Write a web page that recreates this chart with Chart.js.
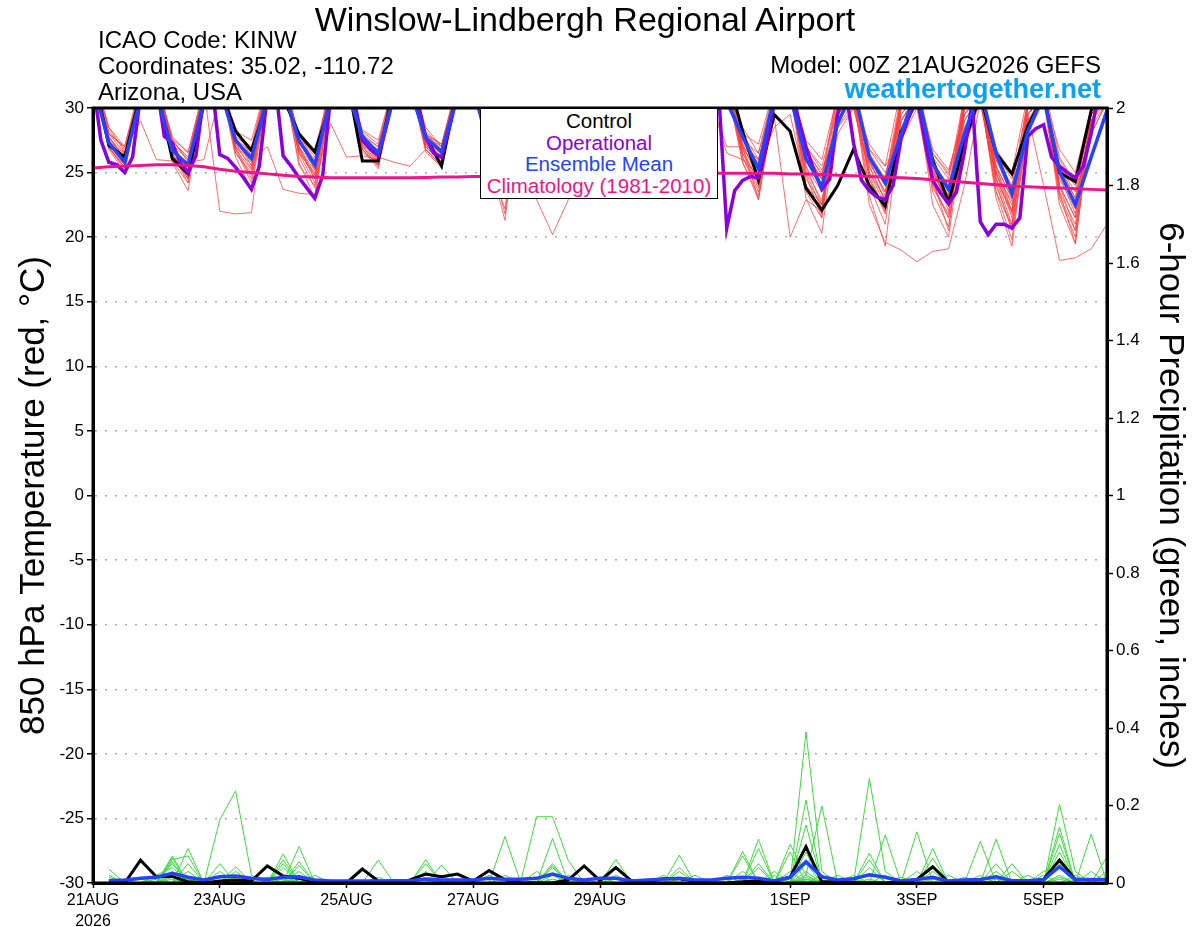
<!DOCTYPE html>
<html>
<head>
<meta charset="utf-8">
<title>Winslow-Lindbergh Regional Airport - GEFS</title>
<script src="https://cdn.jsdelivr.net/npm/chart.js@4.4.1/dist/chart.umd.min.js"></script>
<style>
  html, body { margin: 0; padding: 0; background: #fff; }
  #wrap { position: relative; width: 1200px; height: 927px; overflow: hidden;
          font-family: "Liberation Sans", Arial, Helvetica, sans-serif; }
  #chart { position: absolute; left: 0; top: 0; width: 1200px; height: 927px; }
  .txt { position: absolute; line-height: 1; white-space: nowrap; color: #000; }
  #legendBox { position: absolute; left: 480px; top: 108px; width: 238px; height: 91px;
               box-sizing: border-box; border: 1.5px solid #000; background: #fff;
               text-align: center; font-size: 20.5px; line-height: 21.7px; padding-top: 1px; }
</style>
</head>
<body>
<div id="wrap">
  <canvas id="chart" width="1200" height="927"></canvas>

  <div class="txt" style="left:585px; top:2px; font-size:34px; transform:translateX(-50%);">Winslow-Lindbergh Regional Airport</div>
  <div class="txt" style="left:98px; top:28px; font-size:24px;">ICAO Code: KINW</div>
  <div class="txt" style="left:98px; top:54px; font-size:24px;">Coordinates: 35.02, -110.72</div>
  <div class="txt" style="left:98px; top:80px; font-size:24px;">Arizona, USA</div>
  <div class="txt" style="right:99px; top:53px; font-size:24px;">Model: 00Z 21AUG2026 GEFS</div>
  <div class="txt" style="right:99px; top:76px; font-size:27px; font-weight:bold; color:#0aa0f5;">weathertogether.net</div>

  <div id="legendBox">
    <div style="color:#000;">Control</div>
    <div style="color:#8a00dc;">Operational</div>
    <div style="color:#2244ff;">Ensemble Mean</div>
    <div style="color:#f0148c;">Climatology (1981-2010)</div>
  </div>
</div>

<script>
// forecast hours (6-hourly from 00Z 21AUG2026)
const hours = [0,6,12,18,24,30,36,42,48,54,60,66,72,78,84,90,96,102,108,114,120,126,132,138,144,
  150,156,162,168,174,180,186,192,198,204,210,216,222,228,234,240,246,252,258,264,270,276,282,288,
  294,300,306,312,318,324,330,336,342,348,354,360,366,372,378,384];
const precipHours = hours.slice(1);
const opHours = [0,3,6,9,12,15,18,21,24,27,30,33,36,39,42,45,48,51,54,57,60,63,66,69,72,75,78,81,
  84,87,90,93,96,99,102,105,108,111,114,117,120,123,126,129,132,135,138,141,144,147,150,153,156,
  159,162,165,168,171,174,177,180,183,186,189,192,195,198,201,204,207,210,213,216,219,222,225,228,
  231,234,237,240,243,246,249,252,255,258,261,264,267,270,273,276,279,282,285,288,291,294,297,300,
  303,306,309,312,315,318,321,324,327,330,333,336,339,342,345,348,351,354,357,360,363,366,369,372,
  375,378,381,384];

const tickHours = [0, 48, 96, 144, 192, 264, 312, 360];
const tickLabels = [['21AUG', '2026'], '23AUG', '25AUG', '27AUG', '29AUG', '1SEP', '3SEP', '5SEP'];
const leftTicks = [-30, -25, -20, -15, -10, -5, 0, 5, 10, 15, 20, 25, 30];
const rightTicks = [0, 0.2, 0.4, 0.6, 0.8, 1, 1.2, 1.4, 1.6, 1.8, 2];

// 850 hPa temperature (C)
const controlTemp = [32.8, 27.1,26.2,31.1,31.5, 26.1,24.9,30.3,31.5, 28.2,26.7,30.5,30.8, 28.0,26.6,30.3,32.5,
  25.9,25.9,31.8,31.5, 27.8,25.5,31.5,32, 27.0,26.0,31,32, 26.8,25.8,31,32, 27.0,26.0,31,32, 27.0,26.0,31,32.7,
  28.2,24.4,29.5,28.2, 23.8,22.1,24.0,26.8, 24.0,22.4,28.2,30.5, 26.0,22.7,27.3,31, 26.5,24.9,28.6,31, 25.0,24.3,29.8,32];

const meanTemp = [32, 27.3,25.8,30.8,31.2, 26.7,25.6,30.5,31.5, 27.5,26.1,30.8,31.5, 27.5,25.6,30.8,31.5,
  27.8,26.5,31,31.5, 27.7,26.6,31,31.5, 27.0,25.5,31,31.5, 26.8,25.0,31,31.5, 26.8,25.5,31,31.5, 26.8,25.5,31,30.5,
  27.8,25.3,31,31, 26.1,23.9,28.8,31.5, 26.2,24.2,28.0,31.5, 25.7,23.7,28.0,31.5, 26.5,23.4,28.2,31, 25.1,22.5,26.2,29.8];

const opTemp = [
  32, 27.5, 25.8, 25.6, 25.0, 26.2, 31, 33,
  32, 27.8, 27.3, 25.8, 25.0, 26.3, 31, 32,
  26.4, 26.1, 25.4, 24.6, 23.7, 25.5, 31, 32,
  26.3, 25.5, 24.6, 23.8, 23.0, 24.8, 31, 33,
  32, 30.5, 27.5, 26.8, 26.3, 28.5, 31, 33,
  32, 30.5, 27.7, 26.5, 26.2, 28.5, 31, 33,
  32, 30, 27.5, 26.8, 26.2, 27.5, 31, 33,
  32, 30, 27.5, 26.5, 26.0, 27.5, 31, 33,
  32, 30, 27.5, 26.5, 26.0, 27.5, 31, 33,
  32, 30, 27.5, 26.5, 26.0, 27.5, 31, 31,
  20.7, 23.6, 24.4, 24.7, 24.6, 27, 30.5, 32,
  32, 29.3, 27.0, 25.2, 23.7, 24.5, 29.5, 31.5,
  27.3, 24.4, 23.6, 23.1, 22.9, 24, 27.6, 29.3,
  31, 27.5, 24.4, 23.4, 22.6, 23.5, 26.6, 30.5,
  21.2, 20.2, 21.0, 21.0, 20.7, 21.5, 27.8, 28.4,
  28.7, 26.2, 25.5, 25.0, 24.6, 25.5, 28, 31.5,
  33];

const climoTemp = [25.35,25.45,25.5,25.55,25.6,25.6,25.55,25.45,25.25,25.1,
  25.0,24.9,24.8,24.7,24.65,24.6,24.6,24.6,24.6,24.6,
  24.6,24.62,24.65,24.65,24.7,24.7,24.75,24.75,24.8,24.8,
  24.85,24.85,24.9,24.9,24.9,24.95,24.95,24.95,24.95,24.95,
  24.95,24.95,24.95,24.95,24.9,24.9,24.85,24.8,24.75,24.7,
  24.65,24.6,24.55,24.45,24.35,24.25,24.15,24.05,23.95,23.9,
  23.85,23.8,23.75,23.7,23.65];

const memberTemps = [
  [32, 27.6,26.2,31.5,32.5, 26.8,25.1,31,32, 27.2,26.0,31.5,32.5, 27.0,25.4,31,32, 27.8,26.6,31.5,32, 27.5,26.4,31,32, 27.0,25.8,31,32, 26.5,25.2,31,32, 27.0,25.6,31,32, 26.8,25.4,31,32, 27.5,25.2,31,31.5, 26.0,24.0,29.5,31, 26.5,24.5,31,32, 25.5,23.5,30.5,31.5, 26.0,23.8,30.5,31.5, 25.0,22.8,29.0,31],
  [33, 28.2,26.8,29.0,26.0, 25.9,24.2,31.5,32, 27.8,26.8,32,33, 27.5,26.0,31.5,32.5, 28.0,27.0,32,32.5, 28.2,27.0,31.5,32, 27.5,26.5,31.5,32, 27.2,26.0,31,32, 27.5,26.2,31.5,32, 27.2,25.8,31,32, 28.5,26.5,31.5,32, 27.0,25.2,28.5,30.5, 27.2,25.5,31.5,32, 26.5,24.8,29.0,31, 26.8,25.0,31,32, 26.2,24.2,30,31.5],
  [32.5, 27.2,25.8,32,33, 27.0,25.5,31.5,22.0, 21.8,21.9,31,32, 26.5,25.0,31,32, 27.5,26.0,31.5,32, 27.8,26.8,31.5,32.5, 26.8,25.5,31,32, 27.0,25.8,31.5,32, 26.5,25.0,31,32, 27.5,26.0,31.5,32, 27.0,24.8,30.5,31, 25.2,22.8,30.5,31.5, 25.8,23.5,29.5,31, 25.0,22.5,30.5,31.5, 24.5,22.0,30,31.5, 24.0,21.5,29.5,31],
  [32, 28.0,26.5,31.5,32, 26.2,25.8,26.0,31, 28.0,27.0,32,32.5, 27.8,26.5,31.5,32, 28.2,27.2,32,33, 28.0,27.2,32,32.5, 27.5,26.8,31.5,32, 27.8,26.5,31.5,32, 27.5,26.0,31,32, 27.0,25.5,31,32, 28.0,26.0,30.5,31.5, 27.5,26.0,31,32, 26.8,25.0,28.0,30.5, 26.2,24.5,31,32, 25.5,23.0,29.5,31, 26.8,25.0,30,31.5],
  [33, 27.0,25.4,31,32, 27.5,26.0,31.5,32.5, 27.0,26.0,27.0,23.7, 23.4,23.3,30.5,32, 27.0,25.6,31,32, 27.2,26.0,31.5,32, 26.5,25.0,31,32, 26.8,25.5,31,32, 27.2,25.5,31.5,32, 26.5,25.0,31,31.5, 27.2,24.5,31,31.5, 25.5,23.5,31,32, 26.0,24.0,30,31.5, 24.2,21.5,29.0,31, 25.2,22.5,30.5,31.5, 25.5,23.0,30,31],
  [32, 27.8,26.0,31.5,32, 27.2,25.2,31,32, 26.8,25.2,31,32, 26.5,24.2,28.8,26.2, 26.3,26.0,31,32, 27.0,25.8,31,32, 27.2,26.0,31.5,32, 26.0,24.5,31,32, 27.8,26.5,32,32.5, 26.2,24.8,31,31.5, 26.8,24.2,31,32, 24.0,21.8,30,31.5, 25.5,22.8,31,31.5, 25.8,24.0,30,31.5, 24.5,21.8,29.5,31, 23.5,21.0,29,31],
  [32.5, 27.4,25.6,32,32.5, 25.8,23.6,31,32, 27.5,26.4,31.5,32, 27.2,25.8,31.5,32, 27.5,26.2,25.8,25.5, 26.8,25.5,31,32, 26.2,24.8,31,32, 27.5,26.2,31.5,32, 26.2,24.5,31,31.5, 27.8,26.2,31.5,32, 26.2,23.5,31,32, 26.5,24.5,31,31.5, 24.5,22.0,29.0,31, 25.2,23.2,31,32, 26.5,24.5,28.5,31, 24.5,22.2,29.5,31],
  [32, 27.0,25.2,31,32, 27.8,26.5,31.5,32.5, 26.5,24.8,31,32, 28.0,26.2,32,32.5, 27.0,25.8,31,32, 26.8,25.6,31.5,32, 26.0,21.3,31,32, 27.0,25.5,31,32, 27.2,25.8,31,32, 26.5,25.0,31,32, 25.8,22.9,30.5,31, 25.0,22.2,30,31, 24.8,22.0,29.5,31, 25.0,22.8,28,30.5, 24.0,20.8,29.5,31, 25.5,23.5,29.5,31],
  [33, 28.5,27.0,31.5,32.5, 26.5,24.5,31,32, 27.8,25.5,31.5,32.5, 27.0,24.8,31,32, 28.3,27.5,32,32.5, 28.5,27.0,32,32.5, 26.8,21.8,31,32, 26.5,25.0,31,32, 26.8,25.2,31,32, 27.2,25.8,31,32, 27.0,26.0,31,32, 23.5,21.5,30,31, 26.8,25.5,27.5,30, 23.5,20.8,29.5,31, 25.5,22.0,30,31.5, 23.0,20.0,30,31.5],
  [32, 27.3,26.5,31,32, 26.0,24.8,31.5,32, 28.2,27.5,32,33, 26.2,23.8,31,32, 26.8,25.3,31,32, 27.3,26.2,31,32, 25.5,22.2,31,32, 26.0,24.2,31,32, 26.2,24.5,31,32, 26.0,24.5,30.5,31.5, 26.5,24.5,30,31, 25.8,24.5,31.5,32, 25.0,22.5,30,31.5, 26.8,25.2,29.5,31, 23.5,19.8,29,31, 25.5,23.0,28,30.5],
  [32.5, 27.8,26.0,31.5,32, 27.6,25.8,31.5,32.5, 27.0,24.5,31,32, 25.8,23.0,31,32, 27.6,26.8,31.5,32, 26.6,25.4,31,32, 27.2,25.8,31,22.9, 20.2,22.9,31,32, 26.5,25.5,31,32, 27.2,26.0,31.5,32, 28.0,27.2,31.5,32, 26.8,24.8,29,31, 25.8,23.5,30,31.5, 24.8,23.0,30,31.5, 26.2,24.0,30.5,31.5, 24.8,21.8,29,31],
  [32, 26.8,25.0,31,32, 27.0,25.5,31,32, 26.2,23.7,31,32, 27.3,25.5,31.5,32, 26.6,25.5,31,32, 28.0,26.8,31.5,32.5, 26.8,25.2,31,32, 25.8,24.0,31,32, 26.0,24.0,31,32, 25.8,24.2,30.5,26.5, 26.0,24.8,31,31.5, 26.5,25.0,28.5,30, 25.5,22.8,30.5,31.5, 25.5,22.0,30,31, 25.0,21.5,29.5,31, 23.5,19.5,29,30.5],
  [33, 28.0,27.0,32,32.5, 26.5,24.2,31,32, 27.4,25.8,31.5,32, 26.8,24.5,31,32, 28.0,26.4,31.5,32, 27.0,25.8,31,32, 27.8,26.2,31.5,32, 26.5,24.8,31,32, 27.5,26.5,31.5,32, 26.8,25.8,31,32, 27.0,25.8,29.3,20.0, 22.9,22.0,30,31.5, 26.2,24.5,30.5,31.5, 25.2,22.5,31,31.5, 25.0,22.0,30,31, 26.0,24.2,30,31],
  [32, 27.2,25.9,31.5,32, 27.2,26.0,31.5,32, 26.5,25.0,31,32, 27.5,26.8,31.5,32, 27.3,26.2,31,32, 26.8,25.5,31,32, 26.5,25.0,31,32, 27.0,25.0,31,32, 25.5,24.5,30.5,31.5, 26.5,25.0,31,31.5, 25.8,23.2,30.5,31.5, 23.0,20.3,29.5,31, 24.5,21.8,29,31, 24.5,20.5,30,31.5, 24.2,20.5,28,30.5, 25.0,22.5,29,31],
  [32.5, 28.5,26.6,31.5,32.5, 27.0,24.6,31,32, 28.5,26.2,32,32.5, 25.5,24.0,31,32, 27.2,25.8,31.5,32, 27.6,26.6,31.5,32, 27.0,24.2,31,32, 26.2,24.5,31,32, 26.5,25.8,31,32, 26.2,24.0,31,31.5, 27.2,26.0,30.5,31, 25.5,22.5,30,31, 23.2,19.3,29,31, 23.8,21.8,30,31, 23.0,19.3,29,31, 24.0,21.5,28.5,30.5],
  [32, 27.5,26.0,31.5,32, 26.2,24.5,31.5,32, 27.2,25.3,31,32, 26.8,25.2,31,32, 27.0,26.8,31,32, 27.5,26.2,31,32, 26.5,25.5,31,32, 27.5,26.0,31.5,32, 26.0,25.0,31,32, 27.5,25.0,31,31.5, 26.5,24.0,31,31.5, 24.5,22.5,29.5,31, 22.5,19.6,19.0,18.1, 18.9,19.1,24.0,30.5, 24.5,21.0,29.5,31, 24.0,20.5,28,30.5],
  [33, 26.9,25.4,31,32, 27.6,26.6,31.5,32, 27.6,26.6,31.5,32, 27.6,25.2,31.5,32, 26.8,25.6,31,32, 27.8,27.0,31.5,32, 27.5,25.8,31,32, 26.8,24.5,31,32, 27.0,24.8,31,32, 26.5,25.2,31,32, 26.2,23.8,30,31, 24.8,21.5,30,31.5, 26.0,24.5,30,31, 22.5,20.0,28.5,30.5, 25.5,23.0,29.5,24.0, 18.2,18.4,19.1,21.0],
  [32.5, 27.7,26.4,31.5,32, 26.6,25.4,31,32, 26.8,24.2,31,32, 27.0,24.5,31,32, 27.4,25.9,31.5,32, 27.2,25.8,31.5,32, 26.2,24.6,31,32, 26.8,25.8,31,32, 27.2,26.0,31.5,32, 27.0,26.0,31,32, 26.8,25.5,28.5,29.5, 24.0,22.5,28.0,30, 25.0,23.0,27.5,31, 24.0,21.5,27.0,30.5, 24.8,22.8,30,31, 22.5,19.5,29,31],
  [32, 28.0,27.0,31.5,32, 27.4,26.2,31,32, 27.6,26.2,31.5,32, 26.6,24.8,31,32, 27.8,27.0,31.5,32.5, 27.9,27.2,31.5,32, 27.8,26.8,31.5,32, 27.0,26.0,31,32, 27.0,26.0,31,32, 27.0,26.5,31,32, 27.5,26.5,31,31.5, 27.0,25.5,30,31.5, 26.0,23.2,30.5,31.5, 26.5,25.0,30,31, 26.0,23.2,29.5,31, 25.5,24.0,29.5,31],
  [32.5, 26.9,25.6,31,32, 26.4,25.0,31,32, 27.0,25.6,31,32, 28.0,25.8,31.5,32, 26.8,25.6,31,32, 27.0,26.0,31.5,32, 26.8,26.0,31,32, 26.8,25.5,31,32, 26.8,25.0,31,32, 26.5,25.8,30.5,27.0, 27.0,22.9,30,31, 26.5,24.5,29,30.5, 24.0,21.0,30,31.5, 25.5,23.2,29.5,31, 23.5,20.8,29,30.5, 23.2,20.5,29.5,31]
];

// 6-hour precipitation (inches), 06Z 21AUG onward
const controlPrecip = [
  0,0,.059,.016,.017,.003,0,.005,
  .008,.005,.044,.018,.012,.003,0,0,
  .036,.005,0,.008,.023,.016,.023,.005,
  .032,.008,0,0,0,.008,.044,.006,
  .04,.005,.003,.011,.011,.005,0,0,
  .003,.005,.005,.015,.094,.003,.003,.002,
  0,0,.003,.009,.042,.002,0,0,
  0,0,0,.01,.059,.009,.009,.009];

const meanPrecip = [
  .006,.008,.012,.015,.025,.015,.008,.016,
  .018,.012,.009,.015,.016,.008,.005,.005,
  .005,.005,.006,.006,.01,.008,.008,.008,
  .012,.01,.01,.012,.023,.012,.008,.012,
  .012,.005,.008,.01,.012,.008,.008,.012,
  .015,.012,.005,.015,.055,.016,.008,.011,
  .021,.015,.005,.009,.015,.005,.008,.009,
  .016,.006,.006,.009,.042,.009,.009,.009];

const memberPrecips = [
  [.036,0,0,0,.07,0,0,0, .03,0,0,0,.094,0,0,0, 0,0,0,0,0,0,0,0, 0,0,.005,.171,.171,.058,0,0, 0,0,0,0,0,0,0,0, 0,0,0,0,.39,.03,0,0, 0,0,0,0,0,0,0,0, 0,0,0,0,.05,0,0,0],
  [0,0,0,0,0,0,0,.163, .238,.02,0,0,0,0,0,0, 0,0,0,0,0,0,0,0, 0,.02,0,0,0,0,0,0, 0,0,0,0,.04,0,0,0, 0,0,0,0,.214,0,0,0, .077,0,0,0,0,0,0,0, 0,0,0,0,.203,.03,0,0],
  [0,0,0,0,0,.089,0,0, 0,0,0,.075,0,0,0,0, 0,0,0,0,.06,0,0,0, 0,0,0,0,.115,0,0,0, 0,0,0,0,0,0,0,0, .081,0,0,0,.15,0,0,0, 0,0,0,0,.089,0,0,0, 0,0,0,0,0,0,.126,0],
  [0,0,0,0,.065,0,0,0, 0,0,0,0,.055,0,0,0, 0,0,0,0,0,0,0,0, 0,.12,0,0,0,0,0,0, 0,0,0,0,0,0,0,0, 0,.113,0,0,0,0,0,0, .27,.03,0,0,0,0,0,0, 0,0,0,0,.145,0,0,.03],
  [.02,0,0,0,.06,.07,0,0, 0,0,0,.06,0,0,0,0, 0,0,0,0,0,.046,0,0, 0,0,0,0,0,0,0,0, .061,0,0,0,0,0,0,0, 0,0,0,.1,.02,.199,0,0, 0,0,0,0,0,0,0,0, .05,0,0,0,.128,0,0,0],
  [0,0,0,0,.055,0,0,.05, 0,0,0,0,.045,0,0,0, 0,.059,0,0,0,0,0,0, 0,0,0,0,.05,0,0,0, 0,0,0,0,.072,0,0,0, 0,.089,0,0,.08,0,0,0, 0,0,0,.132,0,0,0,0, 0,0,0,0,.1,0,0,0],
  [0,0,0,0,.05,0,0,0, .042,0,0,.05,0,0,0,0, 0,0,0,0,.05,0,0,0, 0,0,0,0,.045,0,0,0, 0,0,0,0,0,0,0,0, .07,0,0,0,.05,0,0,0, 0,.124,0,0,0,0,0,.107, 0,0,0,0,0,0,0,.068],
  [0,0,0,0,0,.05,0,0, 0,0,0,0,.03,0,0,0, 0,0,0,0,0,.02,0,0, 0,0,0,0,0,.02,0,0, 0,0,0,0,0,.02,0,0, 0,0,0,.08,0,0,0,0, .06,0,0,0,0,0,0,0, .113,0,0,0,.08,0,0,0],
  [0,0,0,.02,.04,0,0,0, 0,0,0,.04,0,0,0,0, 0,0,0,0,.03,0,0,0, 0,0,0,0,.04,0,0,0, .02,0,0,0,0,0,0,0, 0,.05,0,0,.03,0,0,0, 0,0,0,0,.064,0,0,0, 0,0,0,.03,.04,0,0,0],
  [.015,0,0,0,0,.03,0,.03, 0,0,0,0,.02,0,0,0, 0,0,0,0,0,0,0,0, .02,0,0,0,0,0,0,0, 0,0,0,0,.03,0,0,0, 0,0,.03,0,.02,0,0,0, .04,0,0,0,0,0,0,0, 0,.05,0,0,0,0,.03,0],
  [0,0,0,0,.03,0,0,0, .02,0,0,0,0,.02,0,0, 0,.015,0,0,0,0,0,0, 0,0,0,.03,0,0,0,0, 0,0,0,.02,0,0,0,0, .03,0,0,.03,0,0,0,0, 0,0,0,.03,0,0,0,.02, 0,0,.02,0,0,0,0,0],
  [0,.005,0,0,0,0,0,0, 0,.015,0,.02,0,0,0,0, 0,0,.01,0,0,0,.01,0, 0,0,0,0,0,0,0,.015, 0,0,0,0,0,0,0,.02, 0,.04,0,0,0,.02,0,0, 0,0,0,0,.03,0,0,0, 0,.03,0,0,0,.02,0,0],
  [0,0,0,.01,0,0,.01,0, 0,0,.015,0,0,.01,0,0, 0,0,0,0,0,0,0,0, 0,0,.01,0,0,0,.01,0, 0,.01,0,0,0,0,0,0, 0,0,.02,0,0,0,0,.02, 0,0,0,0,0,.02,0,0, 0,0,0,.02,0,0,0,0],
  [0,0,0,0,.02,0,0,0, .015,0,0,0,.015,0,0,0, 0,0,0,0,0,.01,0,0, 0,.01,0,0,0,.01,0,0, 0,0,0,0,.01,0,0,0, 0,0,0,0,.01,0,.02,0, 0,.02,0,0,0,0,.015,0, 0,0,0,0,0,0,0,.015],
  [0,0,.01,0,0,.01,0,0, 0,0,0,.01,0,0,0,0, 0,0,0,0,.01,0,0,0, 0,0,0,0,.02,0,0,0, .01,0,0,0,0,0,0,0, .01,0,0,.01,0,0,0,.01, 0,0,.015,0,0,0,0,0, .03,0,0,0,.02,0,0,0],
  [0,0,0,0,.015,0,0,0, 0,0,0,0,.01,0,0,0, 0,0,0,0,0,0,0,0, 0,0,0,0,.01,0,0,0, 0,0,0,0,0,0,0,0, 0,0,0,0,.015,0,0,0, .01,0,0,0,.01,0,0,0, 0,0,0,0,.01,0,0,0],
  [0,0,0,0,0,.01,0,0, .01,0,0,.005,0,0,0,0, 0,0,0,0,0,0,0,.005, 0,0,0,0,0,0,0,0, 0,0,0,0,0,0,0,0, 0,.01,0,0,.01,0,0,0, 0,0,0,0,0,0,0,0, .01,0,0,0,0,0,0,0],
  [0,0,0,0,.01,0,0,0, 0,0,0,0,.005,0,0,0, 0,0,0,0,0,0,0,0, 0,0,0,.005,0,0,0,0, 0,0,0,0,0,0,0,0, 0,0,0,0,.005,0,0,0, 0,0,0,0,0,0,0,0, 0,0,0,0,.015,0,0,0],
  [0,0,0,.005,0,0,0,.005, 0,0,0,0,0,0,0,0, 0,0,0,0,0,0,0,0, 0,0,0,0,0,.005,0,0, 0,0,0,0,0,0,0,0, 0,0,0,0,0,.005,0,0, 0,0,0,0,0,0,0,0, 0,.005,0,0,0,0,0,0],
  [.005,0,0,0,0,0,0,0, 0,0,0,.005,0,0,0,0, 0,0,0,0,0,0,0,0, 0,0,0,0,0,0,0,0, 0,0,0,.005,0,0,0,0, 0,0,0,0,.005,0,0,0, .005,0,0,0,0,0,0,0, 0,0,0,0,0,0,0,0]
];

let fontFamily = '"Liberation Sans", Arial, Helvetica, sans-serif';
let color_member_red = 'rgba(255, 60, 60, 0.75)';
let color_member_green = 'rgb(60, 220, 60)';
let color_operational = '#8a00dc';
let color_mean = '#2244ff';
let color_climo = '#f0148c';

function points(xs, ys) {
    return xs.map((x, k) => ({ x: x, y: ys[k] }));
}

let datasets = [];
memberTemps.forEach(function (row) {
    datasets.push({ data: points(hours, row), borderColor: color_member_red, borderWidth: 1, yAxisID: 'y', order: 10 });
});
memberPrecips.forEach(function (row) {
    datasets.push({ data: points(precipHours, row), borderColor: color_member_green, borderWidth: 1, yAxisID: 'y2', order: 11 });
});
datasets.push({ data: points(precipHours, controlPrecip), borderColor: '#000', borderWidth: 3, yAxisID: 'y2', order: 5 });
datasets.push({ data: points(precipHours, meanPrecip), borderColor: color_mean, borderWidth: 3.5, yAxisID: 'y2', order: 4 });
datasets.push({ data: points(hours, controlTemp), borderColor: '#000', borderWidth: 3, yAxisID: 'y', order: 3 });
datasets.push({ data: points(opHours, opTemp), borderColor: color_operational, borderWidth: 3.5, yAxisID: 'y', order: 2 });
datasets.push({ data: points(hours, meanTemp), borderColor: color_mean, borderWidth: 3.5, yAxisID: 'y', order: 1 });
datasets.push({ data: points(hours, climoTemp), borderColor: color_climo, borderWidth: 3, yAxisID: 'y', order: 0 });

// black frame round the plot area
let framePlugin = {
    id: 'frame',
    afterDatasetsDraw: function (chart) {
        let a = chart.chartArea;
        let c = chart.ctx;
        c.save();
        c.strokeStyle = '#000';
        c.lineWidth = 3;
        c.strokeRect(a.left, a.top, a.right - a.left, a.bottom - a.top);
        c.restore();
    }
};

let ctx = document.getElementById('chart').getContext('2d');
window.gefsChart = new Chart(ctx, {
    type: 'line',
    data: { datasets: datasets },
    plugins: [framePlugin],
    options: {
        responsive: false,
        animation: false,
        events: [],
        layout: { padding: { top: 108, bottom: 0, left: 0, right: 0 } },
        elements: {
            point: { radius: 0 },
            line: { tension: 0, fill: false, borderJoinStyle: 'miter' }
        },
        plugins: {
            legend: { display: false },
            tooltip: { enabled: false }
        },
        scales: {
            x: {
                type: 'linear',
                position: 'bottom',
                min: 0,
                max: 384,
                afterBuildTicks: function (s) { s.ticks = tickHours.map(v => ({ value: v })); },
                afterFit: function (s) { s.height = 44; },
                ticks: {
                    autoSkip: false,
                    maxRotation: 0,
                    padding: 2,
                    color: '#000',
                    font: { size: 16, family: fontFamily, lineHeight: 1.3 },
                    callback: function (v) {
                        let k = tickHours.indexOf(v);
                        return k < 0 ? '' : tickLabels[k];
                    }
                },
                grid: { drawOnChartArea: false, tickLength: 5, tickColor: '#000', tickWidth: 1.5 },
                border: { display: true, color: '#000', width: 3 }
            },
            y: {
                position: 'left',
                min: -30,
                max: 30,
                afterBuildTicks: function (s) { s.ticks = leftTicks.map(v => ({ value: v })); },
                afterFit: function (s) { s.width = 93; },
                ticks: { color: '#000', padding: 3, font: { size: 17, family: fontFamily } },
                grid: { color: '#aaaaaa', lineWidth: 1.5, tickLength: 6, tickColor: '#000', tickWidth: 1.5 },
                border: { display: true, color: '#000', width: 3, dash: [2, 8] },
                title: {
                    display: true,
                    text: '850 hPa Temperature (red, \u00B0C)',
                    color: '#000',
                    font: { size: 35, family: fontFamily },
                    padding: { top: 13, bottom: 0 }
                }
            },
            y2: {
                position: 'right',
                min: 0,
                max: 2,
                afterBuildTicks: function (s) { s.ticks = rightTicks.map(v => ({ value: v })); },
                afterFit: function (s) { s.width = 93; },
                ticks: {
                    color: '#000',
                    padding: 3,
                    font: { size: 17, family: fontFamily },
                    callback: function (v) { return String(Math.round(v * 10) / 10); }
                },
                grid: { drawOnChartArea: false, tickLength: 6, tickColor: '#000', tickWidth: 1.5 },
                border: { display: true, color: '#000', width: 3 },
                title: {
                    display: true,
                    text: '6-hour Precipitation (green, inches)',
                    color: '#000',
                    font: { size: 35, family: fontFamily },
                    padding: { top: 9, bottom: 0 }
                }
            }
        }
    }
});
</script>
</body>
</html>
